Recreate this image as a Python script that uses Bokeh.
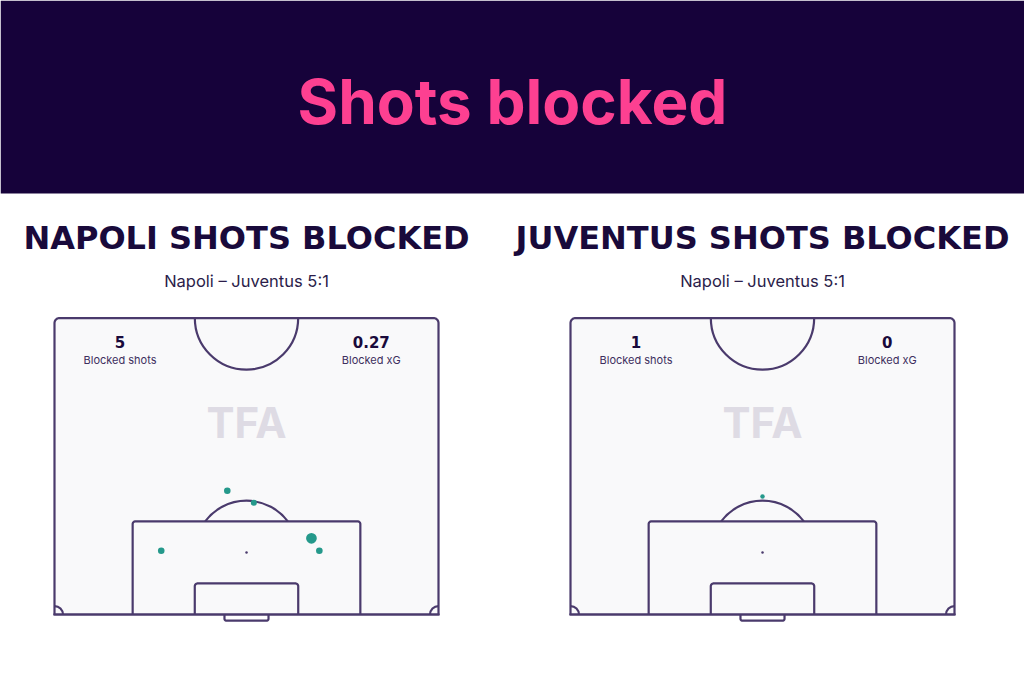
import numpy as np
from bokeh.plotting import figure
from bokeh.models import Range1d, ColumnDataSource
from bokeh.core.properties import value
from bokeh.embed import file_html
from bokeh.resources import INLINE

# ---------------- data ----------------
teams = ["NAPOLI", "JUVENTUS"]
match_label = "Napoli – Juventus 5:1"
blocked_shots = [5, 1]
blocked_xg = ["0.27", "0"]

# shot locations in metres: x across pitch (0-68), y distance from goal line
napoli_x = [30.6, 35.3, 18.9, 45.5, 46.9]
napoli_y = [21.9, 19.8, 11.3, 13.5, 11.3]
napoli_xg = [0.04, 0.03, 0.04, 0.12, 0.04]

juve_x = [34.0]
juve_y = [20.9]
juve_xg = [0.0]

# ---------------- styling ----------------
HEADER = "#16023a"
PINK = "#fd4091"
NAVY = "#190a3b"
LINE = "#4a3a6c"
FILL = "#f9f9fa"
TEAL = "#25998b"
WM = "#dedbe4"
FONT = value("Inter")
WIDE = value("DejaVu Sans")

W, H = 1024, 683
S = 384 / 68.0          # px per metre
PL, GL = 54, 614        # page px of left touchline / goal line of first pitch
DX = (570 - 54) / S     # offset of second pitch


def X(px):
    return (px - PL) / S


def Y(py):
    return (GL - py) / S


x0, x1 = X(0), X(W)
y0, y1 = Y(H), Y(0)

p = figure(width=W, height=H, output_backend="svg", toolbar_location=None,
           x_range=Range1d(x0, x1), y_range=Range1d(y0, y1),
           min_border=0, background_fill_color="white", border_fill_color="white")
p.axis.visible = False
p.grid.visible = False
p.outline_line_color = None

# header band
p.quad(left=x0, right=x1, bottom=Y(193), top=y1, fill_color=HEADER, line_color=None)
p.text(x=[X(512)], y=[Y(101)], text=["Shots blocked"], text_font=FONT,
       text_font_style="bold", text_font_size="62px", text_color=PINK,
       text_align="center", text_baseline="middle")


def rounded_top(xa, xb, yt, r, n=12):
    t = np.linspace(np.pi, np.pi / 2, n)
    xs = [xa]
    ys = [0.0]
    xs += list(xa + r + r * np.cos(t))
    ys += list(yt - r + r * np.sin(t))
    t2 = np.linspace(np.pi / 2, 0, n)
    xs += list(xb - r + r * np.cos(t2))
    ys += list(yt - r + r * np.sin(t2))
    xs.append(xb)
    ys.append(0.0)
    return xs, ys


def rounded_bottom(xa, xb, yb, r, n=10):
    t = np.linspace(np.pi, 1.5 * np.pi, n)
    xs = [xa]
    ys = [0.0]
    xs += list(xa + r + r * np.cos(t))
    ys += list(yb + r + r * np.sin(t))
    t2 = np.linspace(1.5 * np.pi, 2 * np.pi, n)
    xs += list(xb - r + r * np.cos(t2))
    ys += list(yb + r + r * np.sin(t2))
    xs.append(xb)
    ys.append(0.0)
    return xs, ys


def draw_pitch(ox, team, shots, xg, nshots, xgtxt):
    L, Wd = 52.5, 68.0
    lw = 2.2
    # surface
    bx, by = rounded_top(ox, ox + Wd, L, 0.9)
    p.patch(bx, by, fill_color=FILL, line_color=LINE, line_width=lw, line_join="round")
    # goal line
    p.line([ox - 0.2, ox + Wd + 0.2], [0, 0], line_color=LINE, line_width=lw)
    # centre circle (half)
    p.arc(x=ox + 34, y=L, radius=9.15, start_angle=np.pi, end_angle=2 * np.pi,
          line_color=LINE, line_width=lw)
    # penalty area
    xs, ys = rounded_top(ox + 34 - 20.16, ox + 34 + 20.16, 16.5, 0.5)
    p.line(xs, ys, line_color=LINE, line_width=lw, line_join="round")
    # six-yard box
    xs, ys = rounded_top(ox + 34 - 9.16, ox + 34 + 9.16, 5.5, 0.5)
    p.line(xs, ys, line_color=LINE, line_width=lw, line_join="round")
    # penalty arc
    a = np.arcsin(5.5 / 9.15)
    p.arc(x=ox + 34, y=11, radius=9.15, start_angle=a, end_angle=np.pi - a,
          line_color=LINE, line_width=lw)
    # penalty spot
    p.scatter(x=[ox + 34], y=[11], size=2.5, fill_color=LINE, line_color=None)
    # goal
    xs, ys = rounded_bottom(ox + 34 - 3.9, ox + 34 + 3.9, -1.1, 0.35)
    p.line(xs, ys, line_color=LINE, line_width=lw, line_join="round")
    # corner arcs
    p.arc(x=ox, y=0, radius=1.5, start_angle=0, end_angle=np.pi / 2,
          line_color=LINE, line_width=lw)
    p.arc(x=ox + Wd, y=0, radius=1.5, start_angle=np.pi / 2, end_angle=np.pi,
          line_color=LINE, line_width=lw)

    # watermark
    p.text(x=[ox + 34], y=[34.0], text=["TFA"], text_font=FONT, text_font_style="bold",
           text_font_size="42px", text_color=WM, text_align="center",
           text_baseline="middle")

    # titles
    p.text(x=[ox + 34], y=[Y(237)], text=[f"{team} SHOTS BLOCKED"], text_font=WIDE,
           text_font_style="bold", text_font_size="32px", text_color=NAVY,
           text_align="center", text_baseline="middle")
    p.text(x=[ox + 34], y=[Y(280.5)], text=[match_label], text_font=FONT,
           text_font_size="16.5px", text_color="#2b1d4a",
           text_align="center", text_baseline="middle")

    # stats
    p.text(x=[ox + 11.6, ox + 56.1], y=[Y(341.5)] * 2, text=[str(nshots), xgtxt],
           text_font=WIDE, text_font_style="bold", text_font_size="15px",
           text_color=NAVY, text_align="center", text_baseline="middle")
    p.text(x=[ox + 11.6, ox + 56.1], y=[Y(359.5)] * 2,
           text=["Blocked shots", "Blocked xG"], text_font=FONT,
           text_font_size="11px", text_color="#3e2f5e", text_align="center",
           text_baseline="middle")

    # shots
    sx, sy = shots
    src = ColumnDataSource(dict(x=[ox + v for v in sx], y=sy,
                                size=[4.5 + 52 * g for g in xg]))
    p.scatter(x="x", y="y", size="size", source=src, fill_color=TEAL, line_color=None)


draw_pitch(0.0, teams[0], (napoli_x, napoli_y), napoli_xg, blocked_shots[0], blocked_xg[0])
draw_pitch(DX, teams[1], (juve_x, juve_y), juve_xg, blocked_shots[1], blocked_xg[1])

open("out.html", "w").write(file_html(p, INLINE))
